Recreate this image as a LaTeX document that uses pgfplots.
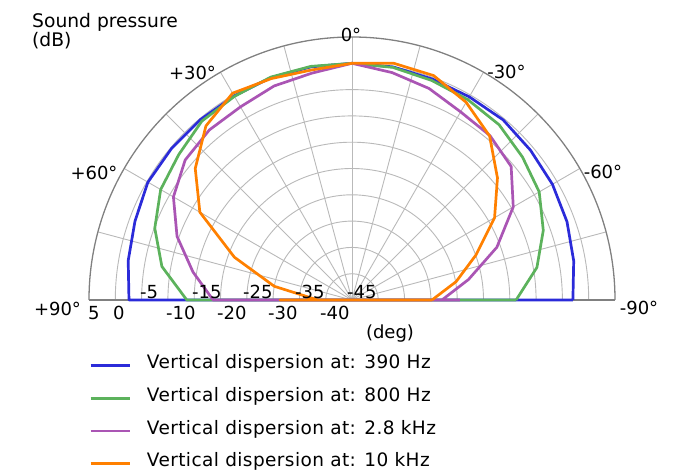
\documentclass[border=0pt]{standalone}
\usepackage{pgfplots}
\pgfplotsset{compat=1.18}
\usepackage{fontspec}
\setmainfont{DejaVu Sans}
\newfontfamily\legfont[LetterSpace=2.2]{DejaVu Sans}
\definecolor{cblue}{RGB}{43,43,217}
\definecolor{cgreen}{RGB}{92,178,92}
\definecolor{cpurple}{RGB}{170,85,180}
\definecolor{corange}{RGB}{255,128,0}
\definecolor{gridc}{RGB}{185,185,185}
\definecolor{outerc}{RGB}{128,128,128}
\pgfplotsset{/pgfplots/table/pxy/.style={
  x expr={-(\thisrow{db}+45)*sin(\thisrow{ang})},
  y expr={(\thisrow{db}+45)*cos(\thisrow{ang})}}}
\begin{document}
\fontsize{18bp}{22bp}\selectfont
\begin{tikzpicture}
\path[use as bounding box] (-352bp,-172bp) rectangle (338bp,300bp);
% grid
\foreach \k [evaluate=\k as \R using 26.3*\k] in {1,...,9}{
  \draw[gridc, line width=0.9bp] (-\R bp,0) arc[start angle=180,end angle=0,radius=\R bp];}
\foreach \a in {15,30,...,165}{\draw[gridc, line width=0.9bp] (0,0) -- (\a:263bp);}
\draw[outerc, line width=1.1bp] (-263bp,0) -- (263bp,0);
\draw[outerc, line width=1.3bp] (-263bp,0) arc[start angle=180,end angle=0,radius=263bp];
\begin{axis}[at={(-263bp,0bp)}, anchor=south west,
  x=5.26bp, y=5.26bp, xmin=-50, xmax=50, ymin=0, ymax=50,
  hide axis, clip=false,
  every axis plot/.append style={line width=2.7bp, line join=round},
  legend cell align=left,
  legend image code/.code={\draw[#1] (0bp,3bp) -- (39bp,3bp);},
  legend style={at={(axis cs:-50,-10.5)}, anchor=north west, draw=none, fill=none,
    inner sep=0pt, row sep=15.8bp, column sep=16bp,
    font=\fontsize{18.5bp}{22bp}\legfont,
    nodes={inner sep=0pt, text height=13bp, text depth=4bp, anchor=base west}},
]
\addplot[cblue] table[pxy] {
ang db
-90 -3.0
90 -2.6
80 -1.8
70 -1.1
60 -0.2
50 -0.2
40 -0.2
30 -0.2
20 0
10 0
0 0
-10 0
-20 -0.3
-30 -0.4
-40 -0.3
-50 -0.7
-60 -1.0
-70 -1.5
-80 -2.2
-90 -3.0
};
\addlegendentry{Vertical dispersion at: 390 Hz}
\addplot[cgreen] table[pxy] {
ang db
-90 -13.8
90 -13.6
80 -8.3
70 -5.1
60 -3.0
50 -2.0
40 -0.6
30 -0.3
20 0.1
10 0.1
0 0
-10 -0.1
-20 -0.6
-30 -1.0
-40 -1.5
-50 -2.7
-60 -3.9
-70 -6.3
-80 -9.3
-90 -13.8
};
\addlegendentry{Vertical dispersion at: 800 Hz}
\addplot[cpurple] table[pxy] {
ang db
-90 -24.5
90 -18.6
80 -14.3
70 -9.6
60 -5.8
50 -3.6
40 -2.8
30 -2.6
20 -1.7
10 -1.2
0 0
-10 -1.1
-20 -2.2
-30 -3.7
-40 -4.2
-50 -5.5
-60 -9.6
-70 -15.7
-80 -22.5
-90 -27.9
-90 -24.5
};
\addlegendentry{Vertical dispersion at: 2.8 kHz}
\addplot[corange] table[pxy] {
ang db
-90 -29.8
90 -31.3
90 -38.5
80 -30.0
70 -21.2
60 -11.6
50 -6.1
40 -1.8
30 0.4
20 -0.2
10 -0.6
0 0
-10 0.7
-20 0.4
-30 -1.6
-40 -4.3
-50 -8.9
-60 -13.7
-70 -19.9
-80 -24.9
-90 -29.8
};
\addlegendentry{Vertical dispersion at: 10 kHz}
\end{axis}
% labels
\begin{scope}[font=\fontsize{18.7bp}{22bp}\selectfont]
\node[anchor=base west, inner sep=0] at (-320bp,272bp) {Sound pressure};
\node[anchor=base west, inner sep=0] at (-320bp,253bp) {(dB)};
\end{scope}
\node[inner sep=0] at (-1bp,265bp) {0°};
\node[inner sep=0] at (-159.5bp,227bp) {+30°};
\node[inner sep=0] at (154.5bp,228bp) {-30°};
\node[inner sep=0] at (-258bp,127bp) {+60°};
\node[inner sep=0] at (251bp,128bp) {-60°};
\node[inner sep=0] at (-294.5bp,-8.5bp) {+90°};
\node[inner sep=0] at (287bp,-8bp) {-90°};
\foreach \x/\t in {-212/-5,-160/-15,-109/-25,-57/-35,-5/-45}
  {\node[anchor=west, inner sep=0] at (\x bp,8bp) {\t};}
\foreach \x/\t in {-264/5,-239/0,-186/-10,-135/-20,-84/-30,-32/-40}
  {\node[anchor=west, inner sep=0] at (\x bp,-13bp) {\t};}
\node[inner sep=0] at (38bp,-34bp) {(deg)};
\end{tikzpicture}
\end{document}
